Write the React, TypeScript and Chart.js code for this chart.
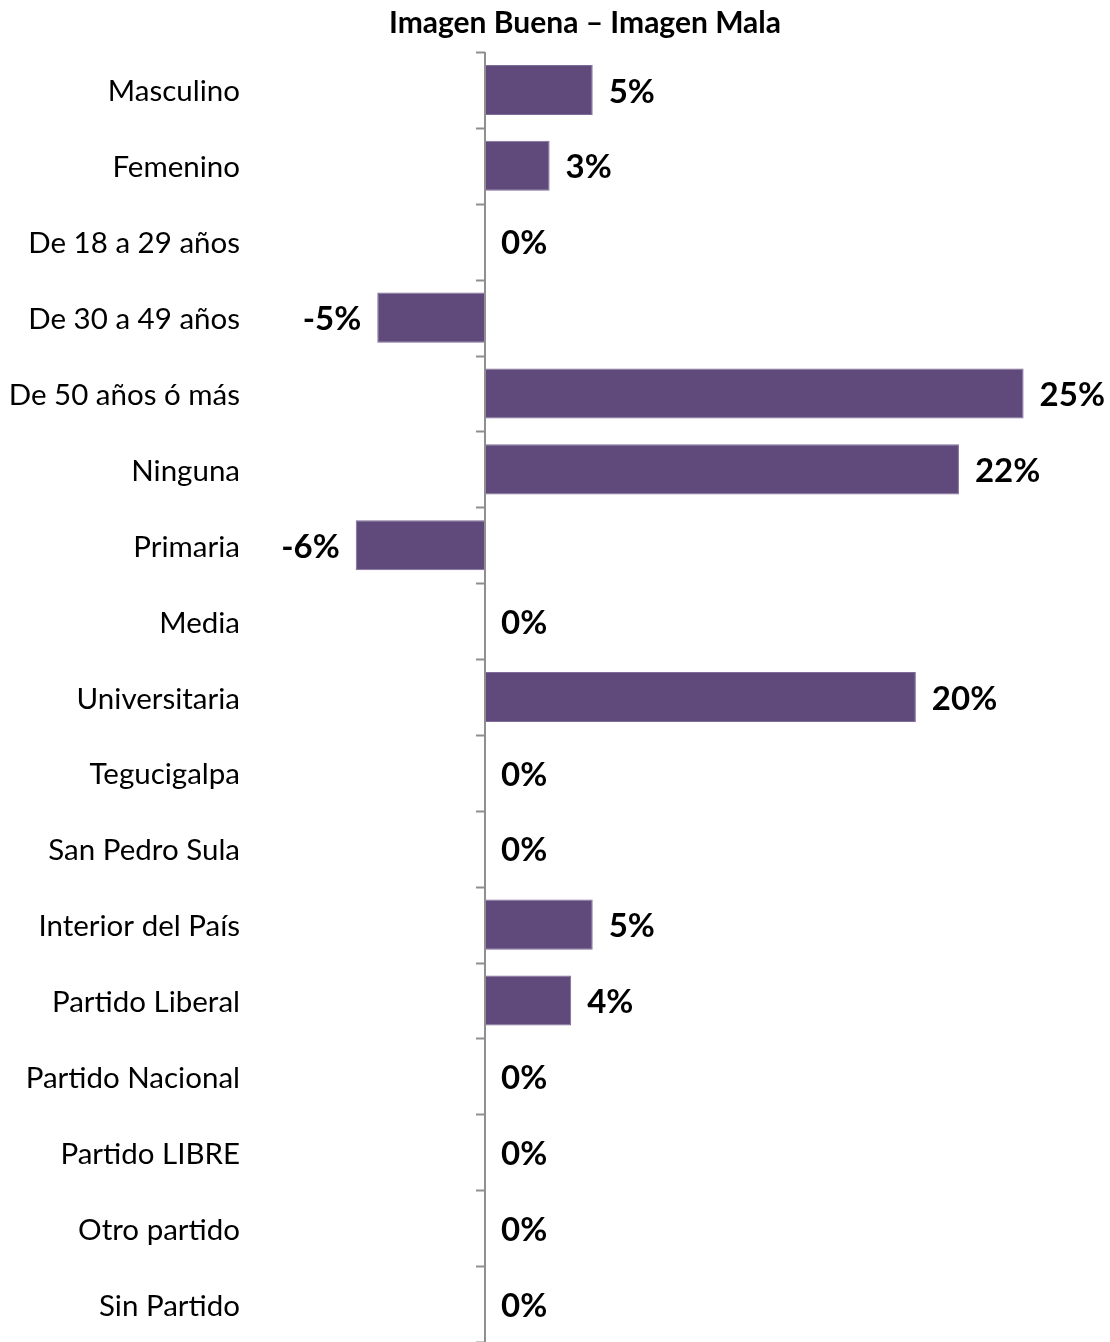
import React, { useEffect, useRef } from "react";
import { Chart, registerables } from "chart.js";

Chart.register(...registerables);

const categories = [
  "Masculino",
  "Femenino",
  "De 18 a 29 años",
  "De 30 a 49 años",
  "De 50 años ó más",
  "Ninguna",
  "Primaria",
  "Media",
  "Universitaria",
  "Tegucigalpa",
  "San Pedro Sula",
  "Interior del País",
  "Partido Liberal",
  "Partido Nacional",
  "Partido LIBRE",
  "Otro partido",
  "Sin Partido",
];

const values = [5, 3, 0, -5, 25, 22, -6, 0, 20, 0, 0, 5, 4, 0, 0, 0, 0];

const titleText = "Imagen Buena – Imagen Mala";

const FONT = "Lato, 'Open Sans', sans-serif";

export default function App() {
  const ref = useRef<HTMLCanvasElement | null>(null);

  useEffect(() => {
    if (!ref.current) return;

    const overlay = {
      id: "overlay",
      afterDatasetsDraw(chart: any) {
        const { ctx, chartArea } = chart;
        const xs = chart.scales.x;
        const x0 = xs.getPixelForValue(0);
        ctx.save();
        // axis line
        ctx.strokeStyle = "#8f8f8f";
        ctx.lineWidth = 2;
        ctx.beginPath();
        ctx.moveTo(x0, chartArea.top);
        ctx.lineTo(x0, chartArea.bottom);
        ctx.stroke();
        // tick marks at category boundaries
        const n = categories.length;
        const step = (chartArea.bottom - chartArea.top) / n;
        for (let i = 0; i <= n; i++) {
          const y = Math.round(chartArea.top + i * step) + 0.5;
          ctx.beginPath();
          ctx.moveTo(x0 - 9, y);
          ctx.lineTo(x0, y);
          ctx.stroke();
        }
        // data labels
        const meta = chart.getDatasetMeta(0);
        ctx.fillStyle = "#000";
        ctx.font = `bold 33px ${FONT}`;
        ctx.textBaseline = "middle";
        meta.data.forEach((bar: any, i: number) => {
          const v = values[i];
          const label = `${v}%`;
          const y = bar.y + 2;
          if (v < 0) {
            ctx.textAlign = "right";
            ctx.fillText(label, bar.x - 16, y);
          } else {
            ctx.textAlign = "left";
            ctx.fillText(label, bar.x + 16, y);
          }
        });
        // title
        ctx.font = `bold 30px ${FONT}`;
        ctx.textAlign = "center";
        ctx.fillText(titleText, 585, 23);
        ctx.restore();
      },
    };

    const chart = new Chart(ref.current, {
      type: "bar",
      data: {
        labels: categories,
        datasets: [
          {
            data: values,
            backgroundColor: "#604a7b",
            borderColor: "#7f6c98",
            borderWidth: 1,
            borderSkipped: false,
            barPercentage: 0.66,
            categoryPercentage: 1,
          },
        ],
      },
      options: {
        indexAxis: "y",
        animation: false,
        responsive: true,
        maintainAspectRatio: false,
        layout: { padding: { top: 52, right: 11, bottom: 0, left: 0 } },
        plugins: {
          legend: { display: false },
          tooltip: { enabled: false },
          title: { display: false },
        },
        scales: {
          x: {
            display: false,
            min: -11,
            max: 28.5,
          },
          y: {
            afterFit(scale: any) {
              scale.width = 248;
              scale.paddingTop = 0;
              scale.paddingBottom = 0;
            },
            grid: { display: false, drawTicks: false },
            border: { display: false },
            ticks: {
              padding: 8,
              labelOffset: 2,
              color: "#000",
              font: { family: FONT, size: 29.5 },
            },
          },
        },
      },
      plugins: [overlay],
    });

    return () => chart.destroy();
  }, []);

  return (
    <div
      style={{
        position: "fixed",
        left: 0,
        top: 0,
        width: 1110,
        height: 1342,
        background: "#fff",
      }}
    >
      <canvas ref={ref} />
    </div>
  );
}
